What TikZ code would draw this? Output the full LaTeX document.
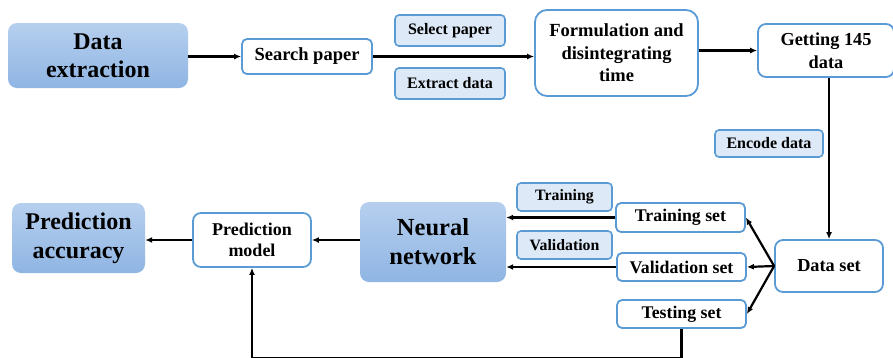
\documentclass[tikz,border=0pt]{standalone}
\usepackage{fontspec}
\setmainfont{Liberation Serif}
\usetikzlibrary{arrows.meta}
\definecolor{bord}{HTML}{5B9BD5}
\definecolor{lab}{HTML}{DDE9F7}
\definecolor{topb}{HTML}{B6CFEE}
\definecolor{botb}{HTML}{8FB5E3}
\tikzset{
  box/.style={draw=bord, line width=1.8pt, fill=white, rounded corners=5pt, align=center, inner sep=0pt},
  labbox/.style={draw=bord, line width=1.6pt, fill=lab, rounded corners=4pt, align=center, inner sep=0pt},
  bigbox/.style={draw=none, top color=topb, bottom color=botb, rounded corners=9pt, align=center, inner sep=0pt},
  arr/.style={line width=2.2pt, -{Latex[length=7pt,width=6pt]}},
}
\begin{document}
\begin{tikzpicture}[x=1pt,y=-1pt]
\useasboundingbox (0,0) rectangle (893,357);
\node[bigbox, minimum width=180, minimum height=65, font=\rmfamily\bfseries\fontsize{24}{28}\selectfont] (dext) at (98,55.5) {Data\\extraction};
\node[box, minimum width=130, minimum height=35, font=\rmfamily\bfseries\fontsize{18.5}{22}\selectfont] (search) at (307,56.5) {Search paper};
\node[labbox, minimum width=110, minimum height=31, font=\rmfamily\bfseries\fontsize{16}{19}\selectfont] (select) at (450,30.5) {Select paper};
\node[labbox, minimum width=110, minimum height=31, font=\rmfamily\bfseries\fontsize{16}{19}\selectfont] (extract) at (450,83.5) {Extract data};
\node[box, rounded corners=12pt, minimum width=163, minimum height=86, font=\rmfamily\bfseries\fontsize{18.5}{22.5}\selectfont] (form) at (616.5,53) {Formulation and\\disintegrating\\time};
\node[box, rounded corners=8pt, minimum width=136, minimum height=53, font=\rmfamily\bfseries\fontsize{18.3}{23}\selectfont] (get) at (826,50.5) {Getting 145\\data};
\node[labbox, minimum width=108, minimum height=27, font=\rmfamily\bfseries\fontsize{16}{19}\selectfont] (encode) at (769,143.5) {Encode data};
\node[box, rounded corners=8pt, minimum width=108, minimum height=52, font=\rmfamily\bfseries\fontsize{18.3}{22}\selectfont] (dset) at (829,266) {Data set};
\node[box, minimum width=129, minimum height=29, font=\rmfamily\bfseries\fontsize{17.8}{21}\selectfont] (trset) at (680.5,217.5) {Training set};
\node[box, minimum width=129, minimum height=28, font=\rmfamily\bfseries\fontsize{17.8}{21}\selectfont] (vaset) at (681.5,267) {Validation set};
\node[box, minimum width=129, minimum height=28, font=\rmfamily\bfseries\fontsize{17.8}{21}\selectfont] (teset) at (681.5,314) {Testing set};
\node[labbox, minimum width=95, minimum height=28, font=\rmfamily\bfseries\fontsize{15.8}{19}\selectfont] (trlab) at (564.5,197) {Training};
\node[labbox, minimum width=95, minimum height=28, font=\rmfamily\bfseries\fontsize{15.8}{19}\selectfont] (valab) at (564.5,245) {Validation};
\node[bigbox, minimum width=146, minimum height=80, font=\rmfamily\bfseries\fontsize{24.5}{29}\selectfont] (nn) at (433,242) {Neural\\network};
\node[box, rounded corners=8pt, minimum width=118, minimum height=54, font=\rmfamily\bfseries\fontsize{18}{21}\selectfont] (pm) at (252,240) {Prediction\\model};
\node[bigbox, minimum width=133, minimum height=70, font=\rmfamily\bfseries\fontsize{24}{29}\selectfont] (pa) at (78.5,238) {Prediction\\accuracy};
\coordinate (bot) at (681.5,358);

\draw[arr] (dext.east |- search.west) -- (search.west);
\draw[arr] (search.east) -- (form.west |- search.east);
\draw[arr] (form.east |- get.west) -- (get.west);
\draw[arr] (get.south -| dset.north) -- (dset.north);
\draw[arr] (dset.west) -- (trset.east);
\draw[arr] (dset.west) -- (vaset.east);
\draw[arr] (dset.west) -- (teset.east);
\draw[arr] (trset.west) -- (nn.east |- trset.west);
\draw[arr] (vaset.west) -- (nn.east |- vaset.west);
\draw[arr] (nn.west |- pm.east) -- (pm.east);
\draw[arr] (pm.west) -- (pa.east |- pm.west);
\draw[arr] (teset.south) -- (bot) -| (pm.south);
\end{tikzpicture}
\end{document}
